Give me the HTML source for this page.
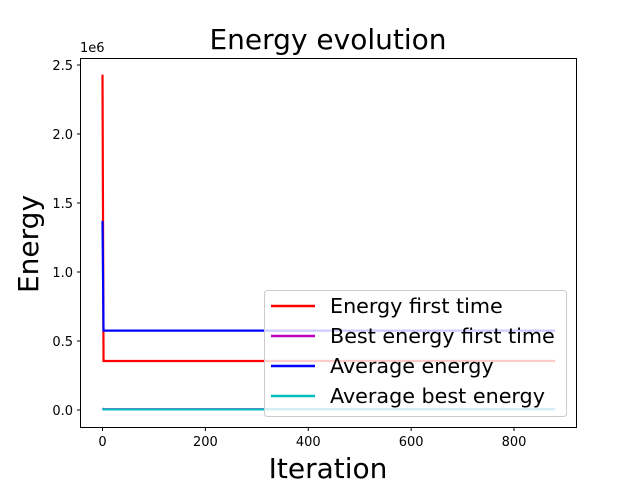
<!DOCTYPE html>
<html><head><meta charset="utf-8"><style>body{margin:0;background:#fff}svg{display:block;font-family:"DejaVu Sans","Liberation Sans",sans-serif}</style></head>
<body>
<svg id="chart" width="640" height="480" viewBox="0 0 640 480">
<rect width="640" height="480" fill="#fff"/>
<text x="328" y="49" font-size="28" text-anchor="middle">Energy evolution</text>
<text x="328" y="478" font-size="28" text-anchor="middle">Iteration</text>
<text transform="translate(38,244) rotate(-90)" font-size="28" text-anchor="middle">Energy</text>
<text x="80" y="52" font-size="13">1e6</text>
<g id="plot"></g>
<rect x="80.5" y="58.5" width="496" height="369" fill="none" stroke="#000" stroke-width="1"/>
<g id="legend"></g>
</svg>
<script>
const xTicks=[0,200,400,600,800];
const yTicks=[0,0.5,1.0,1.5,2.0,2.5];
const yTickLabels=["0.0","0.5","1.0","1.5","2.0","2.5"];
const iterations=[0,2,5,880];
const energyFirst=[2.43,0.355,0.355,0.355];
const bestFirst=[0.012,0.006,0.006,0.006];
const avgEnergy=[1.37,0.575,0.575,0.575];
const avgBest=[0.01,0.004,0.004,0.004];
const seriesNames=["Energy first time","Best energy first time","Average energy","Average best energy"];
const seriesColors=["#ff0000","#bf00bf","#0000ff","#00bfbf"];
const X=v=>102.5+v*0.5144, Y=v=>410-v*138;
const NS="http://www.w3.org/2000/svg";
const plot=document.getElementById('plot');
function mk(t,a,p){const e=document.createElementNS(NS,t);for(const k in a)e.setAttribute(k,a[k]);(p||plot).appendChild(e);return e;}
xTicks.forEach(t=>{
 const l=mk('line',{x1:X(t),x2:X(t),y1:427.5,y2:431,stroke:'#000'});
 
 
 const tx=mk('text',{x:X(t),y:446,'font-size':13,'text-anchor':'middle'});tx.textContent=t;
 
 
});
yTicks.forEach((t,i)=>{
 const l=mk('line',{x1:77,x2:80.5,y1:Y(t),y2:Y(t),stroke:'#000'});
 
 
 const tx=mk('text',{x:73,y:Y(t)+5,'font-size':13,'text-anchor':'end'});tx.textContent=yTickLabels[i];
 
 
});
[energyFirst,bestFirst,avgEnergy,avgBest].forEach((s,i)=>{
 const p=mk('polyline',{points:s.map((v,j)=>X(iterations[j])+','+Y(v)).join(' '),fill:'none',stroke:seriesColors[i],'stroke-width':2.2});
 
 
});
const lg=document.getElementById('legend');
const box=mk('rect',{x:264.5,y:290.5,width:302,height:126,rx:3,fill:'#fff','fill-opacity':0.8,stroke:'#ccc'},lg);


seriesNames.forEach((n,i)=>{
 const y=306+i*30;
 const l=mk('line',{x1:271,x2:315,y1:y,y2:y,stroke:seriesColors[i],'stroke-width':2.5},lg);
 
 
 const t=mk('text',{x:330,y:y+7,'font-size':20.7},lg);t.textContent=n;
 
 
});
</script>
</body></html>
